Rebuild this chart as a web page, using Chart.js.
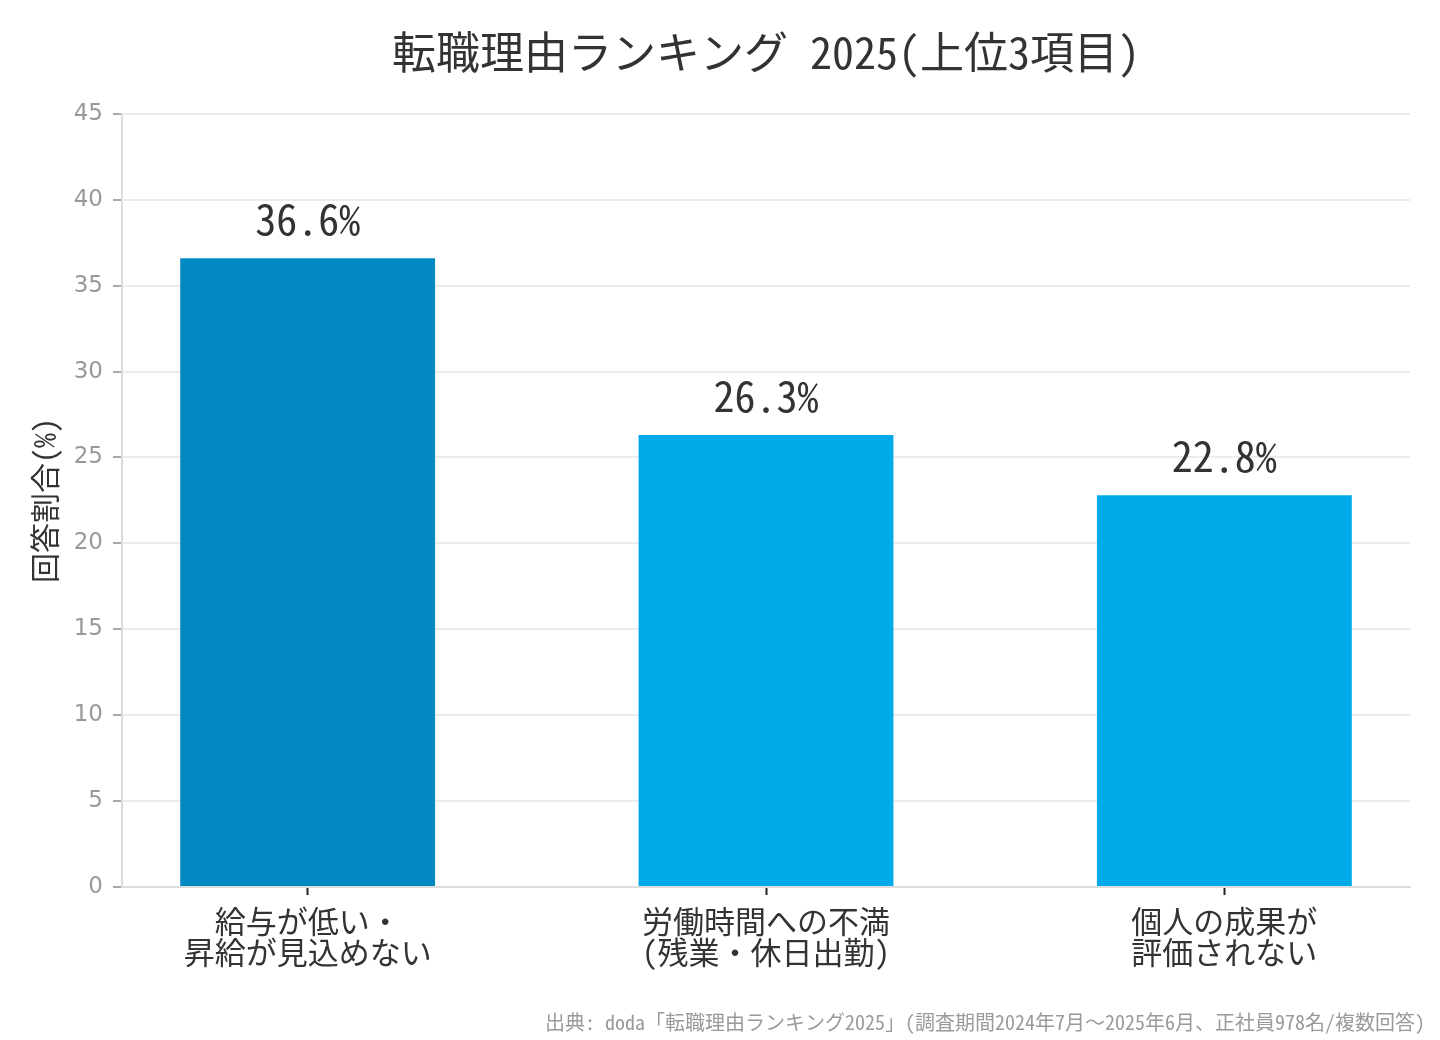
<!DOCTYPE html>
<html lang="ja">
<head>
    <meta charset="UTF-8">
    <title>転職理由ランキング 2025</title>
    <script src="https://cdn.jsdelivr.net/npm/chart.js"></script>
    <style>
        html, body { margin: 0; padding: 0; background: #fff; }
        #wrap { width: 1440px; height: 1040px; }
    </style>
</head>
<body>
    <div id="wrap"><canvas id="rankChart"></canvas></div>

    <script>
        // データ
        const categories = [
            ['給与が低い・', '昇給が見込めない'],
            ['労働時間への不満', '(残業・休日出勤)'],
            ['個人の成果が', '評価されない']
        ];
        const shares = [36.6, 26.3, 22.8];
        const barColors = ['#0289c2', '#00a9e8', '#00a9e8'];
        const yTicks = [0, 5, 10, 15, 20, 25, 30, 35, 40, 45];

        const titleText = '転職理由ランキング 2025(上位3項目)';
        const yTitle = '回答割合(%)';
        const sourceNote = '出典: doda「転職理由ランキング2025」(調査期間2024年7月～2025年6月、正社員978名/複数回答)';

        const monoFont = "'Noto Sans Mono CJK JP', 'Noto Sans CJK JP', sans-serif";

        // 棒の上に値を表示
        const valueLabels = {
            id: 'valueLabels',
            afterDatasetsDraw(chart) {
                const ctx = chart.ctx;
                const meta = chart.getDatasetMeta(0);
                ctx.save();
                ctx.font = '42px ' + monoFont;
                ctx.fillStyle = '#333';
                ctx.textAlign = 'center';
                ctx.textBaseline = 'bottom';
                meta.data.forEach((bar, i) => {
                    ctx.fillText(shares[i].toFixed(1) + '%', bar.x, bar.y - 18);
                });
                ctx.restore();
            }
        };

        // 出典
        const sourcePlugin = {
            id: 'sourceNote',
            afterDraw(chart) {
                const ctx = chart.ctx;
                ctx.save();
                ctx.font = '20px ' + monoFont;
                ctx.fillStyle = '#9a9a9a';
                ctx.textAlign = 'right';
                ctx.textBaseline = 'middle';
                ctx.fillText(sourceNote, chart.width - 15, 1022);
                ctx.restore();
            }
        };

        const ctx = document.getElementById('rankChart').getContext('2d');
        new Chart(ctx, {
            type: 'bar',
            data: {
                datasets: [{
                    data: shares.map((v, i) => ({ x: i, y: v })),
                    backgroundColor: barColors,
                    categoryPercentage: 1,
                    barPercentage: 0.556
                }]
            },
            options: {
                responsive: true,
                maintainAspectRatio: false,
                animation: false,
                layout: { padding: { top: 26, right: 30, left: 0, bottom: 0 } },
                plugins: {
                    legend: { display: false },
                    tooltip: { enabled: false },
                    title: {
                        display: true,
                        text: titleText,
                        fullSize: false,
                        color: '#333',
                        font: { family: monoFont, size: 44, weight: 'normal' },
                        padding: { top: 0, bottom: 35 }
                    }
                },
                scales: {
                    x: {
                        type: 'linear',
                        min: -0.405,
                        max: 2.405,
                        offset: false,
                        afterBuildTicks(scale) {
                            scale.ticks = categories.map((_, i) => ({ value: i }));
                        },
                        afterFit(scale) { scale.height = 153; },
                        ticks: {
                            autoSkip: false,
                            maxRotation: 0,
                            padding: 10,
                            color: '#333',
                            font: { family: monoFont, size: 31, lineHeight: 1.02 },
                            callback: (v) => categories[v]
                        },
                        grid: {
                            offset: false,
                            drawOnChartArea: false,
                            tickColor: '#222',
                            tickLength: 8,
                            tickWidth: 2
                        },
                        border: { color: '#dddddd', width: 2 }
                    },
                    y: {
                        min: 0,
                        max: 45,
                        afterBuildTicks(scale) {
                            scale.ticks = yTicks.map(v => ({ value: v }));
                        },
                        afterFit(scale) { scale.width = 122; },
                        title: {
                            display: true,
                            text: yTitle,
                            color: '#333',
                            font: { family: monoFont, size: 30 },
                            padding: { top: 27, bottom: 0 }
                        },
                        ticks: {
                            padding: 10,
                            color: '#999',
                            font: { family: 'DejaVu Sans', size: 23 }
                        },
                        grid: {
                            color: '#ececec',
                            lineWidth: 2,
                            tickColor: '#aaa',
                            tickLength: 9,
                            tickWidth: 2
                        },
                        border: { color: '#dddddd', width: 2 }
                    }
                }
            },
            plugins: [valueLabels, sourcePlugin]
        });
    </script>
</body>
</html>
